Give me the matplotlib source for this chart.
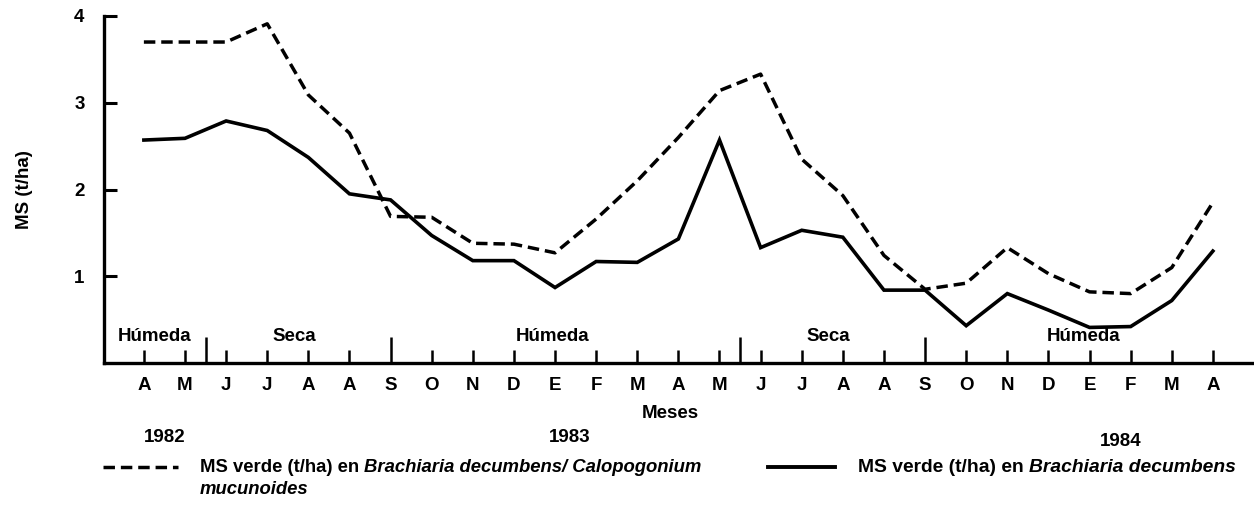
import matplotlib
matplotlib.use("Agg")
import matplotlib.pyplot as plt
import matplotlib.transforms as mtransforms

# ---- data ----
months = ["A", "M", "J", "J", "A", "A", "S", "O", "N", "D", "E", "F", "M", "A",
          "M", "J", "J", "A", "A", "S", "O", "N", "D", "E", "F", "M", "A"]
ms_mixed = [3.70, 3.70, 3.70, 3.91, 3.09, 2.65, 1.69, 1.68, 1.38, 1.37, 1.27, 1.66,
            2.10, 2.60, 3.14, 3.33, 2.35, 1.93, 1.24, 0.85, 0.92, 1.33, 1.03, 0.82,
            0.80, 1.10, 1.85]
ms_grass = [2.57, 2.59, 2.79, 2.68, 2.37, 1.95, 1.88, 1.47, 1.18, 1.18, 0.87, 1.17,
            1.16, 1.43, 2.57, 1.33, 1.53, 1.45, 0.84, 0.84, 0.43, 0.80, 0.61, 0.41,
            0.42, 0.72, 1.29]
yticks = [1, 2, 3, 4]
season_bounds = [1.5, 6, 14.5, 19]
season_labels = ["Húmeda", "Seca", "Húmeda", "Seca", "Húmeda"]
season_label_x = [0.25, 3.65, 9.93, 16.65, 22.85]
years = ["1982", "1983", "1984"]
year_x = [0.5, 10.35, 23.75]

FONT = "Liberation Sans"
plt.rcParams["font.family"] = [FONT, "DejaVu Sans"]
plt.rcParams["font.weight"] = "bold"

W, H = 1254, 516
fig = plt.figure(figsize=(W / 100, H / 100), dpi=100)
ax = fig.add_axes([104 / W, 1 - 363 / H, 1 - 104 / W, (363 - 16) / H])

x = list(range(len(months)))
ax.plot(x, ms_mixed, color="black", lw=2.5, ls=(0, (3.3, 1.7)), solid_joinstyle="miter")
ax.plot(x, ms_grass, color="black", lw=2.6, solid_joinstyle="miter")

ax.set_xlim(-0.97, 27.0)
ax.set_ylim(0, 4)

for s in ["top", "right"]:
    ax.spines[s].set_visible(False)
for s in ["left", "bottom"]:
    ax.spines[s].set_linewidth(2.4)

ax.set_yticks(yticks)
ax.set_yticklabels([str(v) for v in yticks], fontsize=13.5, fontweight="bold")
ax.tick_params(axis="y", direction="in", length=9.5, width=2.2, pad=14)

ax.set_xticks(x)
ax.set_xticklabels(months, fontsize=13.5, fontweight="bold")
ax.tick_params(axis="x", which="major", direction="in", length=9.5, width=1.8, pad=10)
for i, t in enumerate(ax.xaxis.get_major_ticks()):
    if i in season_bounds:
        t.tick1line.set_markersize(19)
ax.set_xticks([b for b in season_bounds if b != int(b)], minor=True)
ax.tick_params(axis="x", which="minor", direction="in", length=19, width=1.8)

for lbl, sx in zip(season_labels, season_label_x):
    ax.text(sx, 0.31, lbl, ha="center", va="center", fontsize=13.5, fontweight="bold")

ax.set_ylabel("MS (t/ha)", fontsize=13.5, fontweight="bold", labelpad=30)

blend = mtransforms.blended_transform_factory(ax.transData, fig.transFigure)
ax.text(12.8, 1 - 413 / H, "Meses", transform=blend, ha="center", va="center",
        fontsize=13.5, fontweight="bold")
for yl, yx, yy in zip(years, year_x, [437, 437, 441]):
    ax.text(yx, 1 - yy / H, yl, transform=blend, ha="center", va="center",
            fontsize=13.5, fontweight="bold")

# ---- legend ----
fig.add_artist(plt.Line2D([103 / W, 178 / W], [1 - 467 / H] * 2, color="black",
                          lw=2.5, ls=(0, (3.3, 1.7))))
fig.add_artist(plt.Line2D([768 / W, 835 / W], [1 - 467 / H] * 2, color="black", lw=2.8))

renderer = fig.canvas.get_renderer()


def mixed(xpix, ypix, parts, size):
    cx = xpix
    for txt, style in parts:
        t = fig.text(cx / W, 1 - ypix / H, txt, ha="left", va="center", fontsize=size,
                     fontweight="bold", fontstyle=style)
        bb = t.get_window_extent(renderer=renderer)
        cx = bb.x1


mixed(200, 467, [("MS verde (t/ha) en ", "normal"),
                 ("Brachiaria decumbens/ Calopogonium", "italic")], 13.3)
fig.text(200 / W, 1 - 489 / H, "mucunoides", ha="left", va="center", fontsize=13.3,
         fontweight="bold", fontstyle="italic")
mixed(858, 467, [("MS verde (t/ha) en ", "normal"),
                 ("Brachiaria decumbens", "italic")], 13.9)

fig.savefig("out.png", dpi=100)
